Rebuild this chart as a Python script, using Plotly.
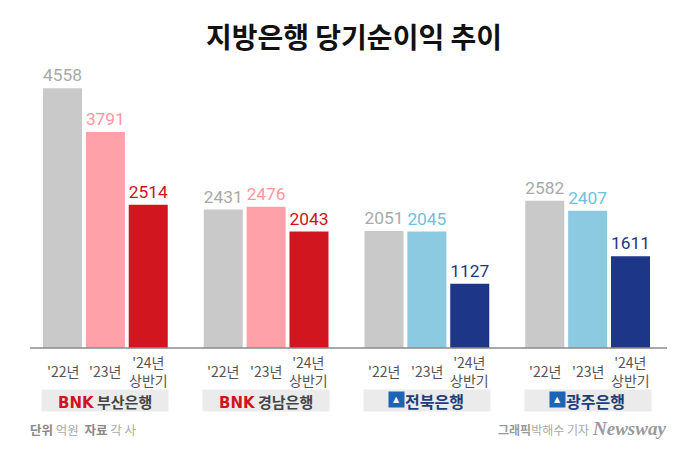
import plotly.graph_objects as go

banks = ["부산은행", "경남은행", "전북은행", "광주은행"]
periods = ["'22년", "'23년", "'24년<br>상반기"]
v22 = [4558, 2431, 2051, 2582]
v23 = [3791, 2476, 2045, 2407]
v24 = [2514, 2043, 1127, 1611]

gray = "#c9c9c9"
c23 = ["#ffa1a9", "#ffa1a9", "#8ccae2", "#8ccae2"]
c24 = ["#d1161f", "#d1161f", "#1d3687", "#1d3687"]
t22 = ["#a9a9a9"] * 4
t23 = ["#ff96a0", "#ff96a0", "#6fbfe0", "#6fbfe0"]
t24 = ["#c8141d", "#c8141d", "#1d3687", "#1d3687"]

FONT = "Noto Sans CJK KR"
NUM = "Roboto"

# page body has an 8px margin; compensate
OFF = 8
BASE_PX = 348
PLOT_H = 285
def py(px):
    return (BASE_PX - px) / PLOT_H

fig = go.Figure()
for vals, cols, tcols in [(v22, [gray] * 4, t22), (v23, c23, t23), (v24, c24, t24)]:
    fig.add_trace(go.Bar(
        x=banks, y=vals,
        marker=dict(color=cols, line=dict(width=0)),
        text=[str(v) for v in vals], textposition="outside",
        textfont=dict(family=NUM, size=18, color=tcols),
        cliponaxis=False, hoverinfo="skip",
    ))

bargap = 0.2
slot = (1 - bargap) / 3
ann = []
for i in range(4):
    for s, p in enumerate(periods):
        ann.append(dict(x=i + (s - 1) * slot, y=py(371), xref="x", yref="paper",
                        text=p, showarrow=False, yanchor="middle",
                        font=dict(family=FONT, size=14, color="#555555"),
                        align="center"))
    ann.append(dict(x=i, y=py(400.5), xref="x", yref="paper", text=" ",
                    showarrow=False, width=124, height=19, bgcolor="#ebebeb",
                    yanchor="middle", font=dict(size=12)))

bnk = "<span style='color:#d2141c;font-family:DejaVu Sans'><b>BNK</b></span>"
for i, name in [(0, "부산은행"), (1, "경남은행")]:
    ann.append(dict(x=i, y=py(401), xref="x", yref="paper", showarrow=False, yanchor="middle",
                    text=bnk + " <b>" + name + "</b>",
                    font=dict(family=FONT, size=15, color="#444444")))
for i, name in [(2, "전북은행"), (3, "광주은행")]:
    ann.append(dict(x=i, y=py(401), xref="x", yref="paper", showarrow=False, yanchor="middle",
                    xshift=8, text="<b>" + name + "</b>",
                    font=dict(family=FONT, size=16, color="#1d3f7a")))
    ann.append(dict(x=i, y=py(399), xref="x", yref="paper", showarrow=False, yanchor="middle",
                    xshift=-30, text="▲", width=13, height=13, bgcolor="#1f63b5",
                    font=dict(family="DejaVu Sans", size=8, color="white")))

# footer
ann.append(dict(x=0.0, y=py(429), xref="paper", yref="paper", xanchor="left", yanchor="middle",
                showarrow=False, xshift=3,
                text="<b>단위</b> <span style='color:#aaaaaa'>억원</span>  <b>자료</b> <span style='color:#aaaaaa'>각 사</span>",
                font=dict(family=FONT, size=12.5, color="#888888")))
ann.append(dict(x=1.0, y=py(428), xref="paper", yref="paper", xanchor="right", yanchor="middle",
                showarrow=False, text="<b><i>Newsway</i></b>",
                font=dict(family="Liberation Serif", size=19, color="#9a9a9a")))
ann.append(dict(x=0.88, y=py(429), xref="paper", yref="paper", xanchor="right", yanchor="middle",
                showarrow=False, text="<b>그래픽</b><span style='color:#aaaaaa'>박해수 기자</span>",
                font=dict(family=FONT, size=12, color="#999999")))

W, H = 700 - OFF, 450 - OFF
fig.update_layout(
    width=W, height=H,
    margin=dict(l=25 - OFF, r=32, t=63 - OFF, b=102),
    paper_bgcolor="white", plot_bgcolor="white",
    barmode="group", bargap=bargap, bargroupgap=0.09,
    showlegend=False,
    title=dict(text="<b>지방은행 당기순이익 추이</b>", x=0.5, xanchor="center",
               y=1 - (38 - OFF) / H, yanchor="middle", yref="container",
               font=dict(family=FONT, size=28, color="#111111", weight=900)),
    xaxis=dict(showticklabels=False, showgrid=False, zeroline=False, showline=False,
               ticks="", range=[-0.5, 3.5]),
    yaxis=dict(range=[0, 5000], visible=False),
    annotations=ann,
    shapes=[dict(type="line", xref="paper", yref="paper", x0=0.008, x1=0.9985, y0=0, y1=0,
                 line=dict(color="#8a8a8a", width=1.5))],
)

fig.write_html("out.html")
